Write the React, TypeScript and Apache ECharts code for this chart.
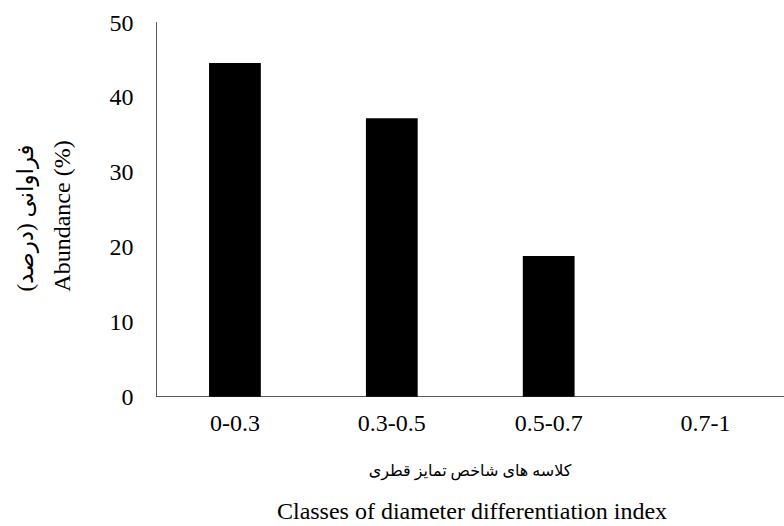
import React, { useEffect, useRef } from "react";
import * as echarts from "echarts";

const categories = ["0-0.3", "0.3-0.5", "0.5-0.7", "0.7-1"];
const abundance = [44.6, 37.2, 18.8, 0];
const yTitleFa = "(درصد) فراوانی";
const yTitleEn = "Abundance (%)";
const xTitleFa = "کلاسه های شاخص تمایز قطری";
const xTitleEn = "Classes of diameter differentiation index";

const serif = "Liberation Serif, DejaVu Serif, DejaVu Sans, serif";

export default function App() {
  const ref = useRef<HTMLDivElement>(null);
  useEffect(() => {
    if (!ref.current) return;
    const chart = echarts.init(ref.current, null, { renderer: "svg" });
    chart.setOption({
      animation: false,
      backgroundColor: "#ffffff",
      textStyle: { fontFamily: serif },
      grid: { left: 156.5, right: -10, top: 22.5, bottom: 129.3, containLabel: false },
      xAxis: {
        type: "category",
        data: categories,
        axisLine: { show: true, lineStyle: { color: "#595959", width: 1 } },
        axisTick: { show: false },
        axisLabel: { color: "#000", fontFamily: serif, fontSize: 24, margin: 14 },
        splitLine: { show: false },
      },
      yAxis: {
        type: "value",
        min: 0,
        max: 50,
        interval: 10,
        axisLine: { show: true, lineStyle: { color: "#595959", width: 1 } },
        axisTick: { show: false },
        axisLabel: { color: "#000", fontFamily: serif, fontSize: 24, margin: 23 },
        splitLine: { show: false },
      },
      series: [
        {
          type: "bar",
          data: abundance,
          barWidth: "33%",
          itemStyle: { color: "#000000" },
        },
      ],
      graphic: [
        {
          type: "text",
          x: 25,
          y: 218,
          rotation: Math.PI / 2,
          style: {
            text: yTitleFa,
            fontFamily: serif,
            fontSize: 23,
            fill: "#000",
            align: "center",
            verticalAlign: "middle",
          },
        },
        {
          type: "text",
          x: 62,
          y: 216,
          rotation: Math.PI / 2,
          style: {
            text: yTitleEn,
            fontFamily: serif,
            fontSize: 24,
            fill: "#000",
            align: "center",
            verticalAlign: "middle",
          },
        },
        {
          type: "text",
          x: 470,
          y: 470,
          style: {
            text: xTitleFa,
            fontFamily: serif,
            fontSize: 16,
            fill: "#000",
            align: "center",
            verticalAlign: "middle",
          },
        },
        {
          type: "text",
          x: 472,
          y: 511,
          style: {
            text: xTitleEn,
            fontFamily: serif,
            fontSize: 24,
            fill: "#000",
            align: "center",
            verticalAlign: "middle",
          },
        },
      ],
    });
    return () => chart.dispose();
  }, []);
  return <div ref={ref} style={{ width: 784, height: 526, position: "absolute", left: 0, top: 0 }} />;
}
